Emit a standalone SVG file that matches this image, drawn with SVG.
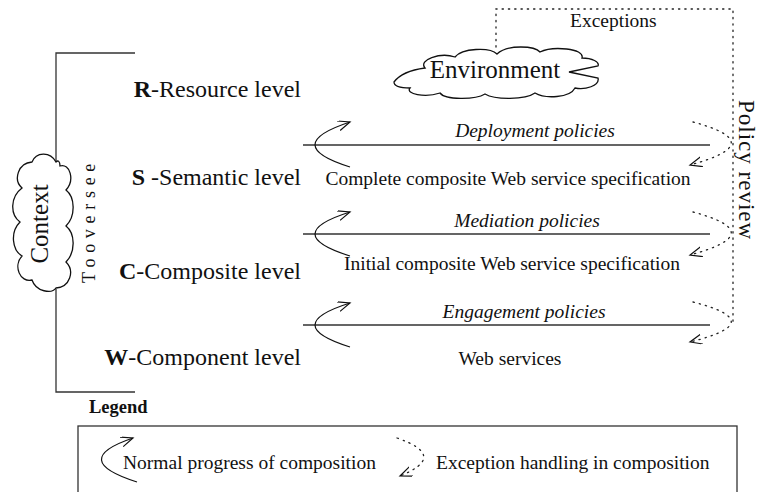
<svg xmlns="http://www.w3.org/2000/svg" width="759" height="492" viewBox="0 0 759 492">
<style>
text{font-family:"Liberation Serif","Times New Roman",serif;fill:#111}
.lvl{font-size:24px;text-anchor:end}
.mid{font-size:19.5px;text-anchor:middle}
.pol{font-size:19.5px;text-anchor:middle;font-style:italic}
.leg{font-size:19.5px}
.b{font-weight:bold}
.ln{stroke:#333;stroke-width:1.3;fill:none}
.cv{stroke:#111;stroke-width:1.2;fill:none}
.dt{stroke:#222;stroke-width:1.3;fill:none;stroke-dasharray:1.3 5;stroke-linecap:round}
.cl{stroke:#111;stroke-width:1.3;fill:#fff}
</style>
<defs>
<marker id="ah" markerUnits="userSpaceOnUse" markerWidth="14" markerHeight="12" refX="12" refY="5" orient="auto">
<path d="M0,0 L12,5 L0,10" fill="none" stroke="#111" stroke-width="1.2"/>
</marker>
</defs>
<rect width="759" height="492" fill="#fff"/>

<g id="bracket">
<path class="ln" d="M135,53 H56 V162 M56,289 V392 H135"/>
</g>

<g id="context">
<path class="cl" d="M56,162 C50,151 36,152 32,162 C18,163 13,180 22,188 C10,197 10,215 20,222 C10,232 12,250 22,256 C13,266 20,283 32,280 C36,292 52,294 56,288 C70,287 75,271 66,262 C76,252 75,233 66,226 C76,216 75,197 66,190 C75,180 70,163 60,166 C60,161 58,160 56,162 Z"/>
<text transform="translate(48,224) rotate(-90)" style="font-size:25px;text-anchor:middle">Context</text>
<text transform="translate(95,283) rotate(-90)" style="font-size:18px;letter-spacing:5.7px">Tooversee</text>
</g>

<g id="environment">
<path class="cl" d="M394,82 C400,74 410,70 425,68 C418,60 440,52 455,57 C462,48 490,47 497,54 C508,44 535,46 540,52 C552,46 585,48 582,58 C592,58 600,62 598,66 L569,72 L598,78 C600,86 585,90 575,88 C570,98 545,99 535,93 C525,100 495,100 485,94 C475,100 445,100 440,93 C425,98 405,94 410,88 C400,88 394,86 394,82 Z"/>
<text x="495" y="78" style="font-size:25px;text-anchor:middle">Environment</text>
</g>

<g id="level-r"><text class="lvl" x="301" y="97"><tspan class="b">R</tspan>-Resource level</text></g>
<g id="level-s"><text class="lvl" x="301" y="185"><tspan class="b">S</tspan> -Semantic level</text></g>
<g id="level-c"><text class="lvl" x="301" y="279"><tspan class="b">C</tspan>-Composite level</text></g>
<g id="level-w"><text class="lvl" x="301" y="365"><tspan class="b">W</tspan>-Component level</text></g>

<g id="artifacts">
<text class="mid" x="508" y="185">Complete composite Web service specification</text>
<text class="mid" x="512" y="270">Initial composite Web service specification</text>
<text class="mid" x="510" y="365">Web services</text>
</g>

<g id="labels">
<text x="570" y="27" style="font-size:19.5px">Exceptions</text>
<text transform="translate(739,100) rotate(90)" style="font-size:23px;letter-spacing:1px">Policy review</text>
</g>

<g id="connectors">
<path class="ln" d="M303,145 H710 M303,234 H710 M303,325 H710"/>
<text class="pol" x="535" y="137">Deployment policies</text>
<text class="pol" x="527" y="227">Mediation policies</text>
<text class="pol" x="524" y="318">Engagement policies</text>
<path class="cv" d="M350,167 Q280,145 350,122" marker-end="url(#ah)"/>
<path class="cv" d="M350,256 Q280,234 350,212" marker-end="url(#ah)"/>
<path class="cv" d="M350,347 Q280,325 350,303" marker-end="url(#ah)"/>
<path class="dt" d="M496,47 V9 H733 V323"/>
<path class="dt" d="M693,122 Q771,143 690,165" marker-end="url(#ah)"/>
<path class="dt" d="M693,212 Q771,233 690,255" marker-end="url(#ah)"/>
<path class="dt" d="M693,302 Q771,322 690,342" marker-end="url(#ah)"/>
</g>

<g id="legend">
<text x="89" y="413" class="b" style="font-size:18.5px">Legend</text>
<rect x="78" y="426" width="659" height="80" class="ln"/>
<path class="cv" d="M137,482 Q68,460 133,438" marker-end="url(#ah)"/>
<text class="leg" x="123" y="469">Normal progress of composition</text>
<path class="dt" d="M397,438 Q449,456 400,476" marker-end="url(#ah)"/>
<text class="leg" x="436" y="469">Exception handling in composition</text>
</g>
</svg>
